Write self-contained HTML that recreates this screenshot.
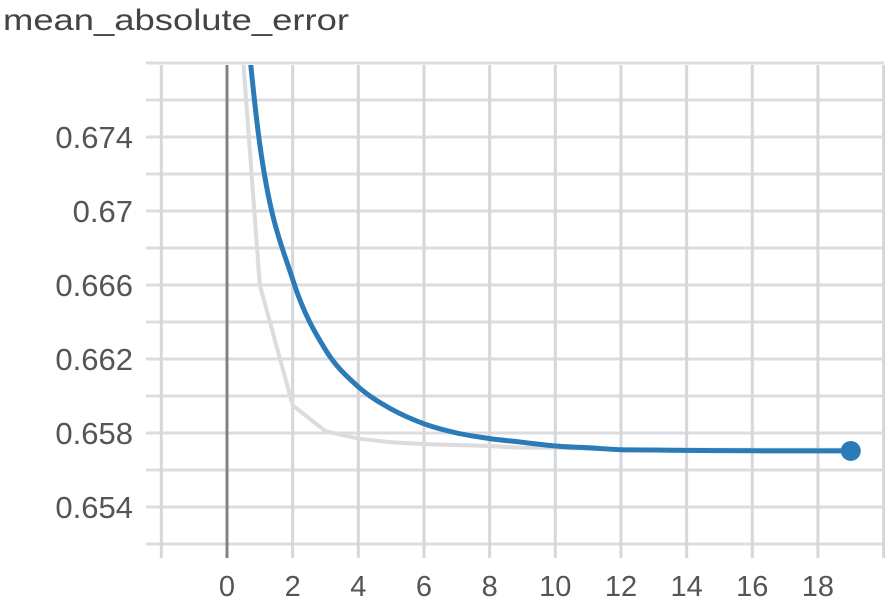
<!DOCTYPE html>
<html><head><meta charset="utf-8"><style>
html,body{margin:0;padding:0;background:#fff;width:888px;height:614px;overflow:hidden}
svg{display:block;font-family:"Liberation Sans",Arial,sans-serif}
</style></head><body>
<svg id="chart" width="888" height="614" viewBox="0 0 888 614">
<text x="3" y="30" font-size="30" fill="#444" textLength="346" lengthAdjust="spacingAndGlyphs">mean_absolute_error</text>
<g id="grid"></g><g id="axes"></g>
<defs><clipPath id="plotclip"><rect x="146" y="65" width="740" height="479"/></clipPath></defs>
<g id="series" clip-path="url(#plotclip)"></g>
<g id="dots"></g>
</svg>
<script>
const steps=[0,1,2,3,4,5,6,7,8,9,10,11,12,13,14,15,16,17,18,19];
const smoothValues=[0.692,0.6736,0.6663,0.6625,0.6605,0.6593,0.6585,0.6580,0.6577,0.6575,0.6573,0.6572,0.6571,0.65708,0.65706,0.65705,0.65704,0.65703,0.65703,0.65703];
const rawValues=[0.690,0.6660,0.6595,0.6581,0.6577,0.6575,0.6574,0.65735,0.6573,0.6572,0.6572,0.65715,0.6571,0.6571,0.6571,0.6571,0.6571,0.6571,0.6571,0.6571];
const xTicks=[0,2,4,6,8,10,12,14,16,18];
const xGrid=[-2,0,2,4,6,8,10,12,14,16,18,20];
const yTicks=[0.654,0.658,0.662,0.666,0.67,0.674];
const yTickLabels=["0.654","0.658","0.662","0.666","0.67","0.674"];
const yGrid=[0.652,0.654,0.656,0.658,0.660,0.662,0.664,0.666,0.668,0.670,0.672,0.674,0.676,0.678];
const X=v=>227+v*32.83;
const Y=v=>507-(v-0.654)/0.002*37;
const NS="http://www.w3.org/2000/svg";
function mk(tag,attrs,parent){const e=document.createElementNS(NS,tag);for(const k in attrs)e.setAttribute(k,attrs[k]);parent.appendChild(e);return e;}
const grid=document.getElementById('grid'),axes=document.getElementById('axes'),series=document.getElementById('series'),dots=document.getElementById('dots');
yGrid.forEach(v=>{const l=mk('line',{x1:146,x2:884,y1:Y(v),y2:Y(v),stroke:'#dcdde0','stroke-width':3},grid);

});
xGrid.forEach(v=>{const l=mk('line',{x1:X(v),x2:X(v),y1:65,y2:558,stroke:v===0?'#7f8388':'#d5d7db','stroke-width':3},grid);

});
yTicks.forEach((v,i)=>{const t=mk('text',{x:133,y:Y(v)+11,'text-anchor':'end','font-size':31,fill:'#555'},axes);t.textContent=yTickLabels[i];

});
xTicks.forEach(v=>{const t=mk('text',{x:X(v),y:596,'text-anchor':'middle','font-size':29,fill:'#555'},axes);t.textContent=String(v);

});
function curvePath(vals){
  const p=vals.map((v,i)=>[X(steps[i]),Y(v)]);
  let d='M'+p[0][0].toFixed(1)+' '+p[0][1].toFixed(1);
  for(let i=0;i<p.length-1;i++){
    const p0=p[Math.max(0,i-1)],p1=p[i],p2=p[i+1],p3=p[Math.min(p.length-1,i+2)];
    const c1x=p1[0]+(p2[0]-p0[0])/6,c1y=p1[1]+(p2[1]-p0[1])/6;
    const c2x=p2[0]-(p3[0]-p1[0])/6,c2y=p2[1]-(p3[1]-p1[1])/6;
    d+=' C'+c1x.toFixed(1)+' '+c1y.toFixed(1)+' '+c2x.toFixed(1)+' '+c2y.toFixed(1)+' '+p2[0].toFixed(1)+' '+p2[1].toFixed(1);
  }
  return d;
}
const linePath=vals=>vals.map((v,i)=>(i?'L':'M')+X(steps[i]).toFixed(1)+' '+Y(v).toFixed(1)).join(' ');
const raw=mk('path',{d:linePath(rawValues),fill:'none',stroke:'#dcdcdc','stroke-width':4,'stroke-linejoin':'round'},series);


const sm=mk('path',{d:curvePath(smoothValues),fill:'none',stroke:'#2a7bb8','stroke-width':5,'stroke-linejoin':'round'},series);


const last=steps.length-1;
const dot=mk('circle',{cx:X(steps[last]),cy:Y(smoothValues[last]),r:10,fill:'#2a7bb8'},dots);


</script>
</body></html>
